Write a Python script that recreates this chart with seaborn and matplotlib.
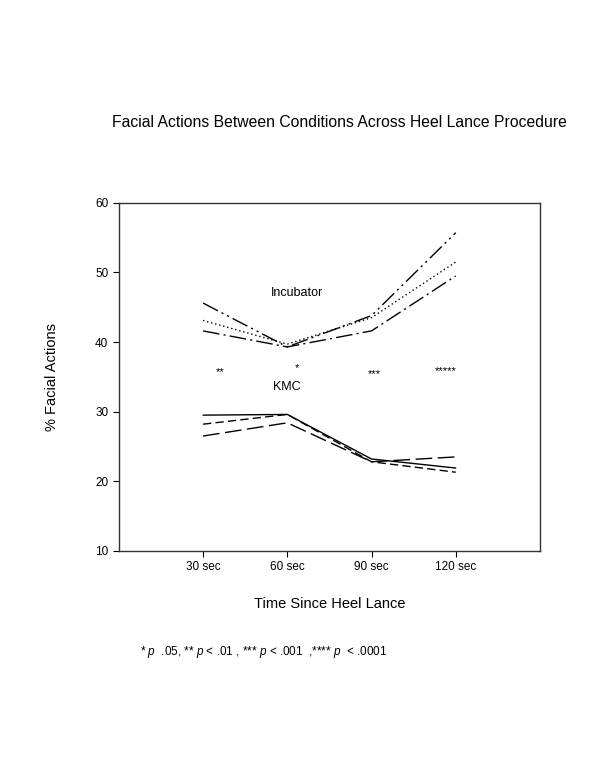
import pandas as pd
import seaborn as sns
import matplotlib.pyplot as plt

# ---------------------------------------------------------------
# Data
# ---------------------------------------------------------------
times = [30, 60, 90, 120]
tick_labels = ["30 sec", "60 sec", "90 sec", "120 sec"]

inc_a = [45.6, 39.3, 43.8, 55.7]   # incubator, dash-dot-dot
inc_b = [43.1, 39.7, 43.5, 51.5]   # incubator, dotted
inc_c = [41.6, 39.3, 41.6, 49.5]   # incubator, dash-dot
kmc_a = [29.5, 29.6, 23.2, 21.9]   # KMC, solid
kmc_b = [28.2, 29.6, 22.8, 21.3]   # KMC, short dash
kmc_c = [26.5, 28.4, 22.8, 23.5]   # KMC, long dash

sig_x = [36, 63.4, 91, 116.3]
sig_y = [35.7, 36.3, 35.4, 35.9]
sig_labels = ["**", "*", "***", "*****"]

series = {"inc_a": inc_a, "inc_b": inc_b, "inc_c": inc_c,
          "kmc_a": kmc_a, "kmc_b": kmc_b, "kmc_c": kmc_c}

df = pd.DataFrame(
    [(name, t, v) for name, vals in series.items() for t, v in zip(times, vals)],
    columns=["series", "time", "pct"],
)

dashes = {
    "inc_a": (12, 3, 1.5, 3, 1.5, 3),
    "inc_b": (1, 2),
    "inc_c": (12, 3, 1.5, 3),
    "kmc_a": "",
    "kmc_b": (6, 3),
    "kmc_c": (12, 4),
}

# ---------------------------------------------------------------
# Plot
# ---------------------------------------------------------------
sns.set_style("ticks")
plt.rcParams["font.family"] = ["Liberation Sans", "DejaVu Sans"]
plt.rcParams["mathtext.fontset"] = "custom"
plt.rcParams["mathtext.rm"] = "Liberation Sans"
plt.rcParams["mathtext.it"] = "Liberation Sans:italic"
plt.rcParams["text.color"] = "black"
plt.rcParams["axes.labelcolor"] = "black"
plt.rcParams["xtick.color"] = "black"
plt.rcParams["ytick.color"] = "black"

fig = plt.figure(figsize=(6, 7.77), dpi=100)
ax = fig.add_axes([0.198, 0.291, 0.702, 0.448])

sns.lineplot(data=df, x="time", y="pct", hue="series", style="series",
             palette={k: "black" for k in series}, dashes=dashes,
             linewidth=1.0, legend=False, ax=ax)

for x, y, s in zip(sig_x, sig_y, sig_labels):
    ax.text(x, y, s, ha="center", va="center", fontsize=8)

ax.text(63.5, 47.1, "Incubator", ha="center", va="center", fontsize=9)
ax.text(60, 33.6, "KMC", ha="center", va="center", fontsize=9)

ax.set_xlim(0, 150)
ax.set_ylim(10, 60)
ax.set_xticks(times)
ax.set_xticklabels(tick_labels)
ax.set_yticks([10, 20, 30, 40, 50, 60])
ax.tick_params(labelsize=8.5, length=4, width=0.8, color="black")
for sp in ax.spines.values():
    sp.set_color("#333333")
    sp.set_linewidth(1.0)

ax.set_xlabel("Time Since Heel Lance", fontsize=10.5, labelpad=17)
ax.set_ylabel("% Facial Actions", fontsize=10.5, labelpad=26)

fig.text(0.566, 0.842, "Facial Actions Between Conditions Across Heel Lance Procedure",
         ha="center", va="center", fontsize=11.3)
fig.text(0.233, 0.161,
         r"* $p$  .05, ** $p$ < .01 , *** $p$ < .001  ,**** $p$  < .0001",
         ha="left", va="center", fontsize=8.5)

fig.savefig("out.png", dpi=100)
